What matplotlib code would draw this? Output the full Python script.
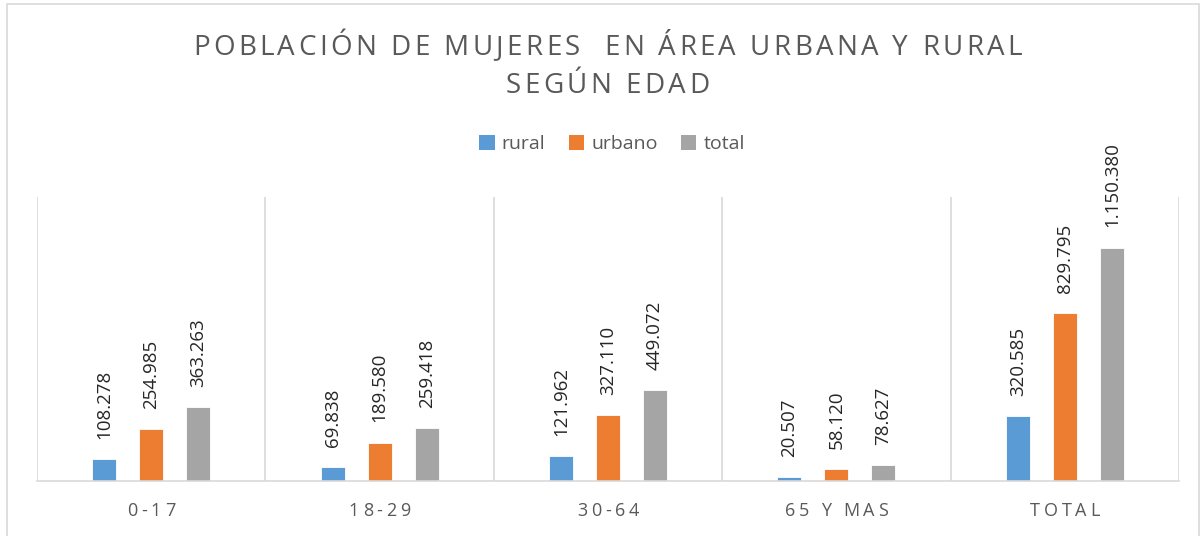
import matplotlib
matplotlib.use("Agg")
import matplotlib.pyplot as plt
from matplotlib.font_manager import FontProperties
from matplotlib.patches import Patch, Rectangle
import numpy as np

# ---- data ----
categories = ["0-17", "18-29", "30-64", "65 Y MAS", "TOTAL"]
rural = [108278, 69838, 121962, 20507, 320585]
urbano = [254985, 189580, 327110, 58120, 829795]
total = [363263, 259418, 449072, 78627, 1150380]
series_names = ["rural", "urbano", "total"]
title_lines = ["POBLACIÓN DE MUJERES  EN ÁREA URBANA Y RURAL", "SEGÚN EDAD"]

colors = ["#5B9BD5", "#ED7D31", "#A5A5A5"]
text_gray = "#595959"
grid_gray = "#D9D9D9"
FONT = "Open Sans"

W, H = 1203, 536
fig = plt.figure(figsize=(W / 100, H / 100), dpi=100)
fig.patch.set_facecolor("white")

# outer border
fig.patches.append(Rectangle((7 / W, -0.02), (1199 - 7) / W, (1 - 4 / H) + 0.02,
                             transform=fig.transFigure, fill=False,
                             edgecolor=grid_gray, lw=1.2))

ax = fig.add_axes([37 / W, 1 - 481 / H, (1179 - 37) / W, (481 - 197) / H])
x = np.arange(len(categories))
offs = [-0.206, 0.0, 0.206]
bw = 0.105
for vals, off, col, name in zip([rural, urbano, total], offs, colors, series_names):
    bars = ax.bar(x + off, vals, width=bw, color=col, edgecolor="white", lw=0.6, label=name)
    for xi, v in zip(x + off, vals):
        ax.annotate(f"{v:,}".replace(",", "."), (xi, v), xytext=(0, 14.5),
                    textcoords="offset points", rotation=90, ha="center", va="bottom",
                    fontsize=13.5, family=FONT, color="#262626")

ax.set_xlim(-0.5, len(categories) - 0.5)
ax.set_ylim(0, 1400000)
for b in np.arange(-0.5, len(categories), 1.0):
    ax.axvline(b, color=grid_gray, lw=1.2, zorder=0)
for s in ["top", "left", "right"]:
    ax.spines[s].set_visible(False)
ax.spines["bottom"].set_color(grid_gray)
ax.spines["bottom"].set_linewidth(1.2)
ax.set_xticks([])
ax.set_yticks([])

renderer = fig.canvas.get_renderer()


def text_width(t, fp):
    if not t:
        return 0.0
    a = renderer.get_text_width_height_descent(t + "H", fp, ismath=False)[0]
    b = renderer.get_text_width_height_descent("H", fp, ismath=False)[0]
    return a - b


def spaced_text(cx, baseline, s, size, color, spacing):
    fp = FontProperties(family=FONT, size=size)
    n = len(s)
    total_w = text_width(s, fp) + spacing * (n - 1)
    x0 = cx - total_w / 2
    for i, c in enumerate(s):
        if c == " ":
            continue
        xi = x0 + text_width(s[:i], fp) + spacing * i
        fig.text(xi / W, 1 - baseline / H, c, fontproperties=fp, color=color,
                 ha="left", va="baseline")


# title with letter spacing, fitted to the reference width
tfp = FontProperties(family=FONT, size=20)
t_sp = (829 - text_width(title_lines[0], tfp)) / (len(title_lines[0]) - 1)
spaced_text(607.5, 55, title_lines[0], 20, text_gray, t_sp)
spaced_text(607.5, 93, title_lines[1], 20, text_gray, t_sp)

# category labels
fig.canvas.draw()
for xi, lab in zip(x, categories):
    px = ax.transData.transform((xi, 0))[0]
    spaced_text(px, 516, lab, 13, text_gray, 3.8)

# legend
handles = [Patch(facecolor=c, edgecolor="none") for c in colors]
leg = fig.legend(handles, series_names, loc="center", bbox_to_anchor=(612 / W, 1 - 144 / H),
                 ncol=3, frameon=False, handlelength=0.8, handleheight=0.8,
                 handletextpad=0.35, columnspacing=1.2,
                 prop=FontProperties(family=FONT, size=14))
for t in leg.get_texts():
    t.set_color(text_gray)

fig.savefig("out.png", dpi=100, facecolor="white")
